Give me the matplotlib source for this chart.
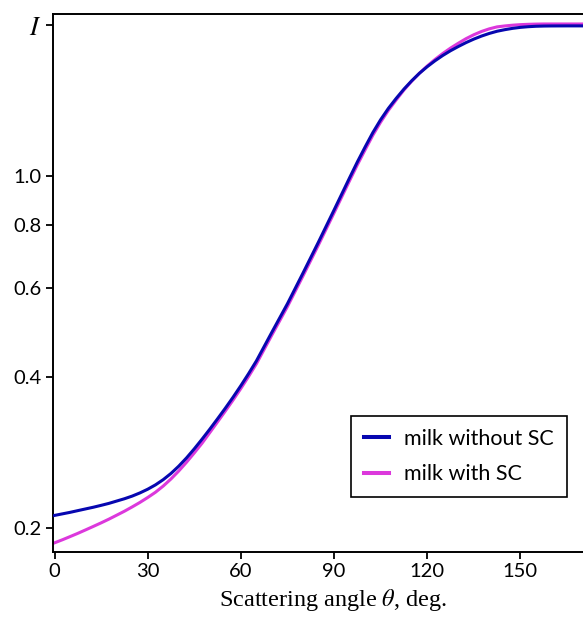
import matplotlib
matplotlib.use("Agg")
import matplotlib.pyplot as plt
from matplotlib.ticker import FixedLocator, NullLocator

# scattering angle, degrees (finer steps where the curves bend)
theta = [0, 2.5, 5, 7.5, 10, 12.5, 15, 17.5, 20, 22.5, 25, 27.5, 30, 32.5,
         35, 37.5, 40, 42.5, 45, 47.5, 50, 52.5, 55, 57.5, 60, 62.5, 65,
         70, 75, 80, 85, 90, 95, 97.5, 100, 102.5, 105, 107.5, 110,
         112.5, 115, 117.5, 120, 122.5, 125, 127.5, 130, 132.5, 135, 137.5,
         140, 142.5, 145, 147.5, 150, 152.5, 155, 157.5, 160,
         165, 170]

# intensity, milk without scattering centres
i_without = [0.2120, 0.2135, 0.2150, 0.2167, 0.2184, 0.2201, 0.2220, 0.2240,
             0.2264, 0.2288, 0.2316, 0.2350, 0.2390, 0.2438, 0.2497, 0.2569,
             0.2656, 0.2758, 0.2875, 0.3005, 0.3146, 0.3299, 0.3463, 0.3642,
             0.3839, 0.4057, 0.4299,
             0.4905, 0.5586, 0.6426, 0.7410, 0.8575, 0.9938, 1.0685, 1.1443,
             1.2226, 1.2966, 1.3658, 1.4294,
             1.4915, 1.5496, 1.6040, 1.6528, 1.6980, 1.7398, 1.7780, 1.8126,
             1.8455, 1.8753, 1.9017, 1.9247, 1.9440, 1.9581, 1.9699, 1.9788,
             1.9848, 1.9888, 1.9908, 1.9917,
             1.9923, 1.9923]

# intensity, milk with scattering centres
i_with = [0.1870, 0.1896, 0.1924, 0.1953, 0.1984, 0.2016, 0.2049, 0.2084,
          0.2122, 0.2161, 0.2204, 0.2250, 0.2301, 0.2357, 0.2425, 0.2505,
          0.2598, 0.2704, 0.2822, 0.2950, 0.3097, 0.3253, 0.3418, 0.3595,
          0.3790, 0.4005, 0.4243,
          0.4842, 0.5514, 0.6343, 0.7314, 0.8464, 0.9809, 1.0547, 1.1295,
          1.2080, 1.2824, 1.3536, 1.4194,
          1.4855, 1.5465, 1.6040, 1.6578, 1.7083, 1.7555, 1.7995, 1.8400,
          1.8790, 1.9131, 1.9421, 1.9656, 1.9833, 1.9918, 1.9987, 2.0037,
          2.0067, 2.0087, 2.0097, 2.0097,
          2.0097, 2.0097]

x_ticks = [0, 30, 60, 90, 120, 150]
y_ticks = [0.2, 0.4, 0.6, 0.8, 1.0, 2.0]
y_ticklabels = ["0.2", "0.4", "0.6", "0.8", "1.0", "$I$"]

BLUE = "#0707b0"
MAGENTA = "#dc38dc"

plt.rcParams["font.family"] = ["Lato", "DejaVu Sans"]
plt.rcParams["mathtext.fontset"] = "stix"

fig = plt.figure(figsize=(5.83, 6.17), dpi=100)
ax = fig.add_axes([0.0904, 0.1053, 0.962, 0.872])

ax.plot(theta, i_with, color=MAGENTA, lw=2.2, label="milk with SC", zorder=2)
ax.plot(theta, i_without, color=BLUE, lw=2.2, label="milk without SC", zorder=3)

ax.set_yscale("log")
ax.set_xlim(-0.58, 180)
ax.set_ylim(0.1793, 2.1036)

ax.xaxis.set_major_locator(FixedLocator(x_ticks))
ax.set_xticklabels([str(t) for t in x_ticks])
ax.yaxis.set_major_locator(FixedLocator(y_ticks))
ax.yaxis.set_minor_locator(NullLocator())
ax.set_yticklabels(y_ticklabels)
ax.tick_params(labelsize=14.5, length=5, width=1.3, direction="out", pad=3)
ax.get_yticklabels()[-1].set_fontsize(19)

for side in ("left", "bottom", "top", "right"):
    ax.spines[side].set_linewidth(1.4)

ax.set_xlabel(r"Scattering angle $\theta$, deg.", family="Liberation Serif",
              fontsize=17.5, labelpad=5)

handles, labels = ax.get_legend_handles_labels()
leg = ax.legend(handles[::-1], labels[::-1], loc="lower left",
                bbox_to_anchor=(0.5317, 0.1022), borderaxespad=0,
                fontsize=15.5, fancybox=False, framealpha=1, edgecolor="black",
                handlelength=1.16, handletextpad=0.7, borderpad=0.6,
                labelspacing=0.72)
leg.get_frame().set_linewidth(1.2)
for line in leg.get_lines():
    line.set_linewidth(2.9)

fig.savefig("out.png", dpi=100)
